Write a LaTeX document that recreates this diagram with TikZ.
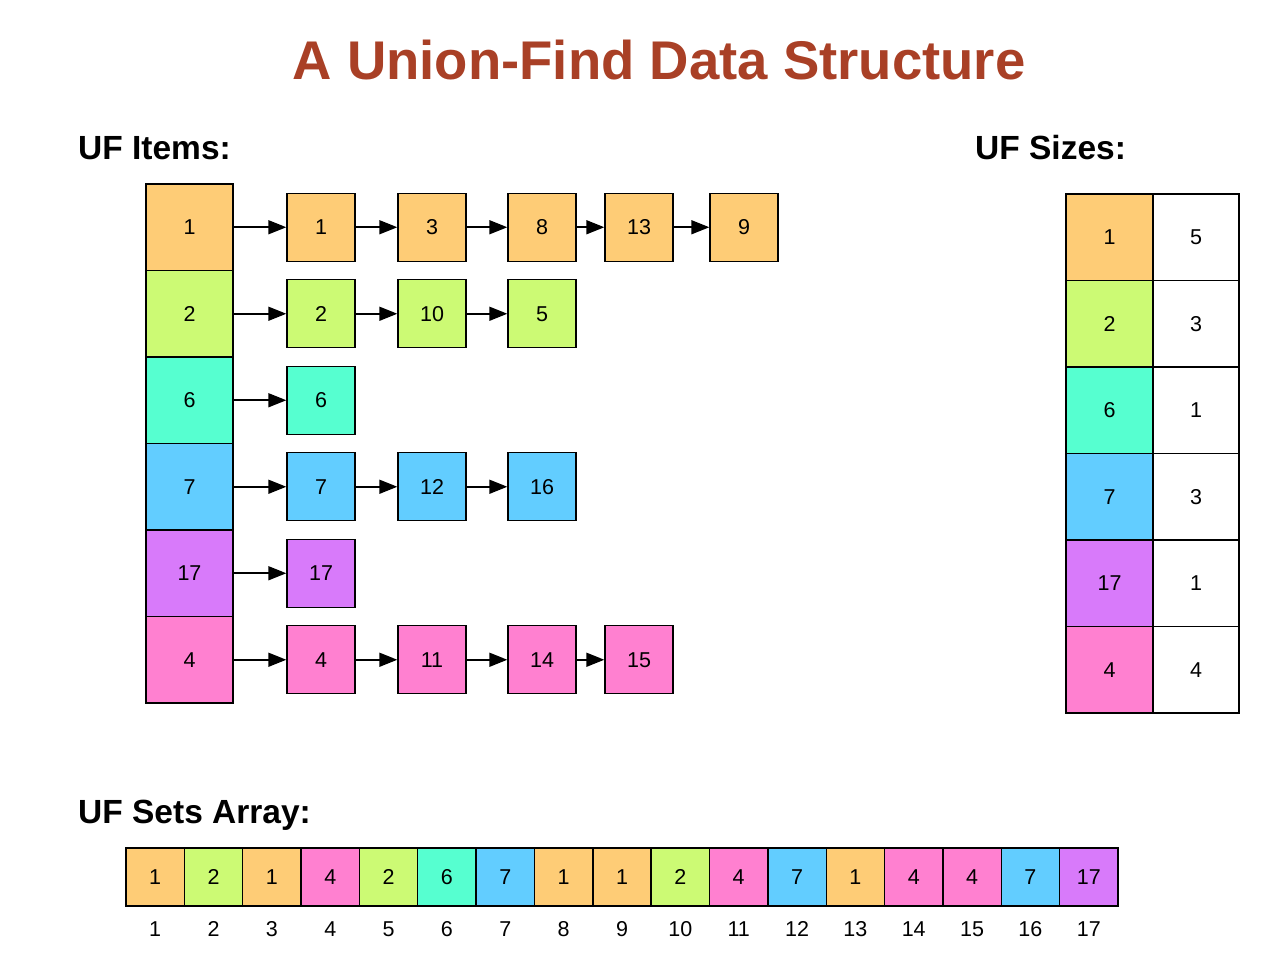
\documentclass[tikz,border=0pt]{standalone}
\usepackage{fontspec}
\setmainfont{Liberation Sans}
\usetikzlibrary{arrows.meta}
\definecolor{cO}{RGB}{254,204,118}
\definecolor{cG}{RGB}{204,250,116}
\definecolor{cT}{RGB}{86,255,208}
\definecolor{cB}{RGB}{98,205,255}
\definecolor{cP}{RGB}{216,122,250}
\definecolor{cK}{RGB}{255,128,208}
\definecolor{titlecol}{RGB}{169,64,38}
\tikzset{
  cell/.style={draw=black, line width=1.4pt, inner sep=0pt, font=\fontsize{21.5}{26}\selectfont},
  bigcell/.style={cell, minimum width=87pt, minimum height=86.5pt},
  itmcell/.style={cell, minimum width=68pt, minimum height=68pt},
  setcell/.style={cell, minimum width=58.35pt, minimum height=58pt},
  idxlabel/.style={inner sep=0pt, font=\fontsize{21.5}{26}\selectfont},
  arr/.style={line width=1.7pt, -{Triangle[length=18pt,width=14pt]}},
  hdr/.style={inner sep=0pt, anchor=base west, font=\fontsize{33.5}{40}\selectfont\bfseries},
}
\begin{document}
\begin{tikzpicture}[x=1pt,y=-1pt]
\useasboundingbox (0,0) rectangle (1277,958);
% title
\node[inner sep=0pt, anchor=base, text=titlecol, font=\fontsize{54.5}{64}\selectfont\bfseries] (title) at (659,80) {A Union-Find Data Structure};
% headers
\node[hdr] (hItems) at (78,159) {UF Items:};
\node[hdr] (hSizes) at (975,159) {UF Sizes:};
\node[hdr] (hSets) at (78,823) {UF Sets Array:};
% left column
\foreach \v/\c [count=\k] in {1/cO,2/cG,6/cT,7/cB,17/cP,4/cK}{
  \node[bigcell, fill=\c] (lft-\v) at (189.5,{227.25+86.5*(\k-1)}) {\v};
}
% chains
\foreach \row/\c/\lst in {1/cO/{1/321,3/432,8/542,13/639,9/744},
                          2/cG/{2/321,10/432,5/542},
                          3/cT/{6/321},
                          4/cB/{7/321,12/432,16/542},
                          5/cP/{17/321},
                          6/cK/{4/321,11/432,14/542,15/639}}{
  \foreach \v/\x in \lst {
    \node[itmcell, fill=\c] (itm-\v) at (\x,{227.25+86.5*(\row-1)}) {\v};
  }
}
% arrows
\foreach \a/\b in {lft-1/itm-1, itm-1/itm-3, itm-3/itm-8, itm-8/itm-13, itm-13/itm-9,
                   lft-2/itm-2, itm-2/itm-10, itm-10/itm-5,
                   lft-6/itm-6,
                   lft-7/itm-7, itm-7/itm-12, itm-12/itm-16,
                   lft-17/itm-17,
                   lft-4/itm-4, itm-4/itm-11, itm-11/itm-14, itm-14/itm-15}{
  \draw[arr] (\a) -- (\b);
}
% sizes table
\foreach \v/\s/\c [count=\k] in {1/5/cO,2/3/cG,6/1/cT,7/3/cB,17/1/cP,4/4/cK}{
  \node[bigcell, fill=\c] (szk-\k) at (1109.5,{237.25+86.5*(\k-1)}) {\v};
  \node[bigcell, fill=white, minimum width=86pt] (szv-\k) at (1196,{237.25+86.5*(\k-1)}) {\s};
}
% sets array
\foreach \v/\c [count=\k] in {1/cO,2/cG,1/cO,4/cK,2/cG,6/cT,7/cB,1/cO,1/cO,2/cG,4/cK,7/cB,1/cO,4/cK,4/cK,7/cB,17/cP}{
  \node[setcell, fill=\c] (set-\k) at ({126+58.35*(\k-0.5)},877) {\v};
  \node[idxlabel] (idx-\k) at ({126+58.35*(\k-0.5)},929) {\k};
}
\end{tikzpicture}
\end{document}
